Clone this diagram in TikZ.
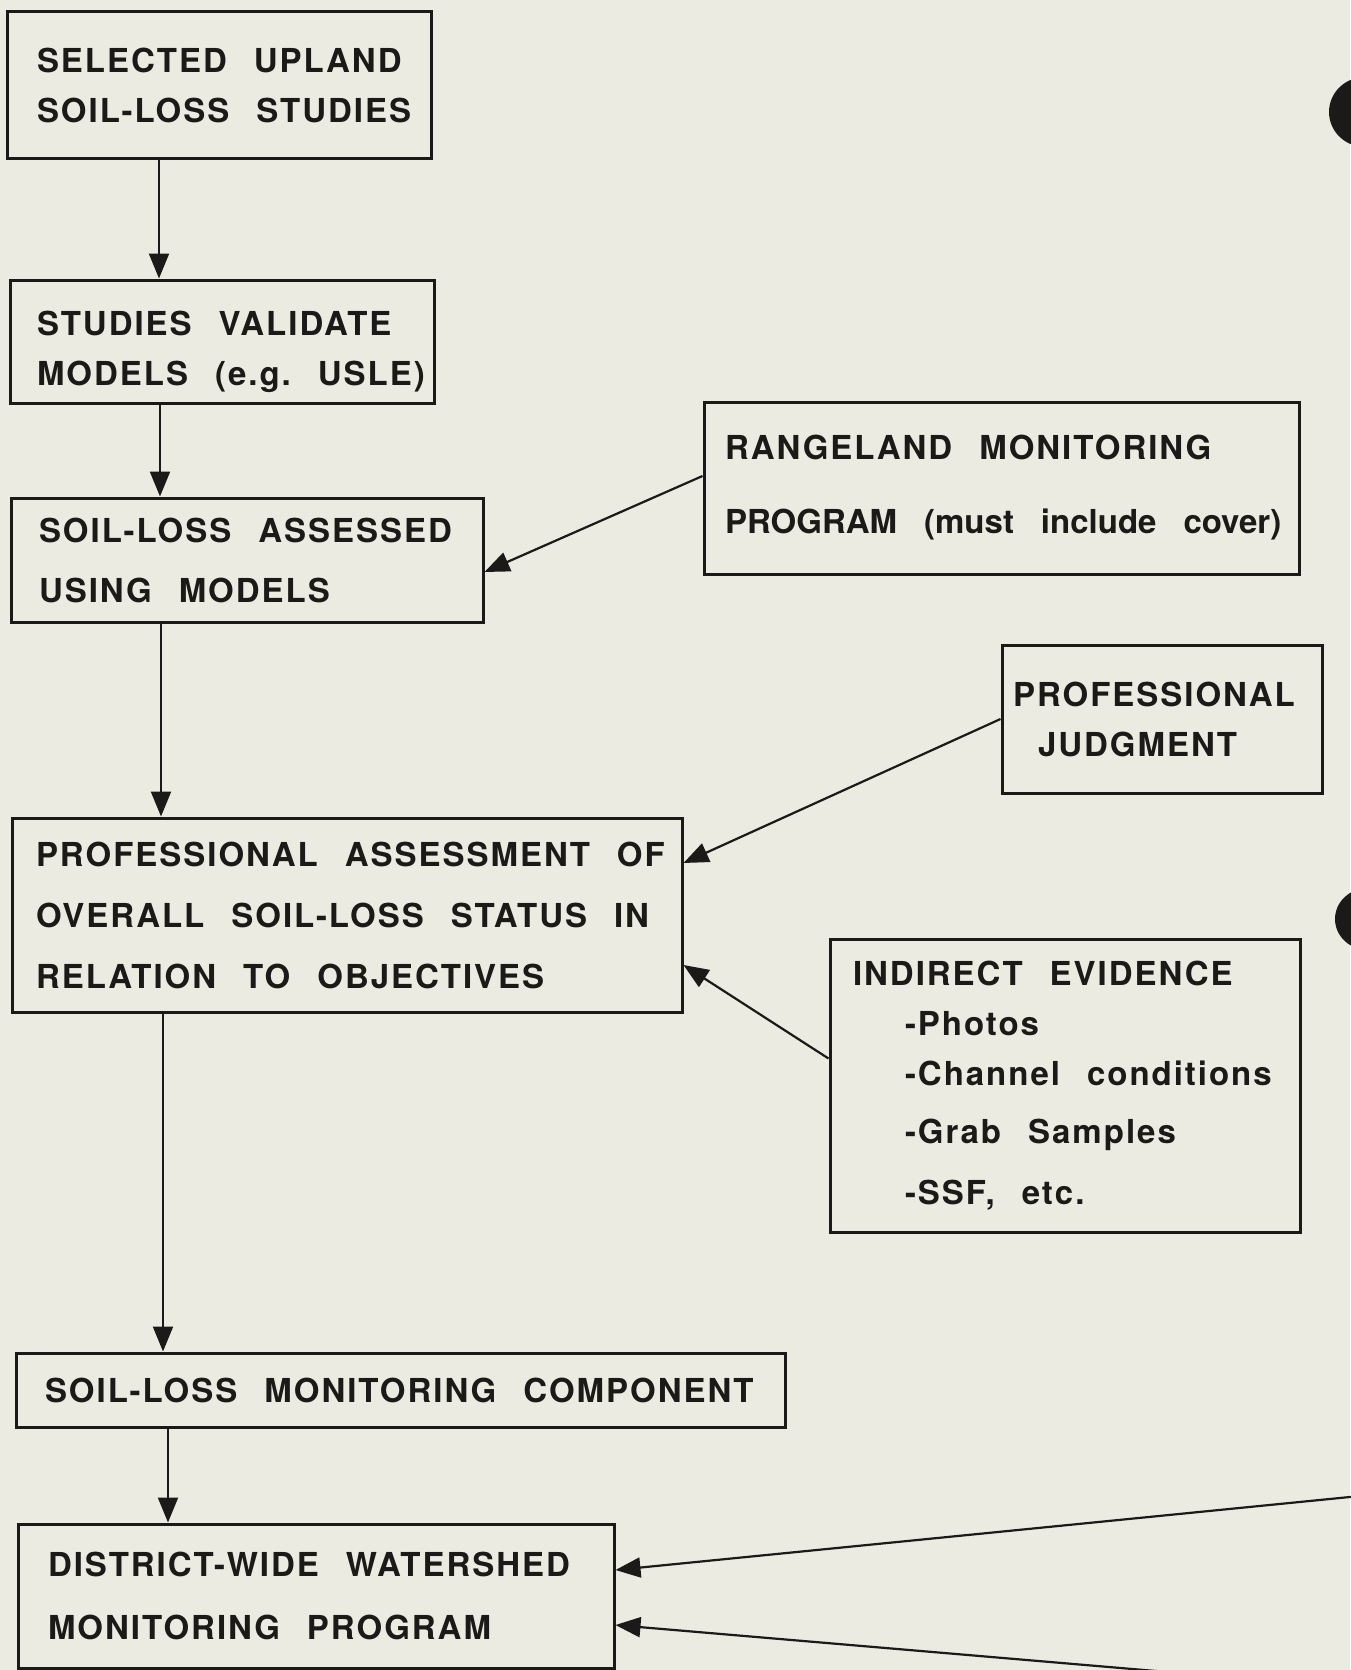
\documentclass[tikz,border=0pt]{standalone}
\usepackage{fontspec}
\setmainfont{TeX Gyre Heros}[LetterSpace=6]
\newfontfamily\tightfont{TeX Gyre Heros}
\usetikzlibrary{arrows.meta, calc}
\definecolor{paper}{RGB}{236, 235, 225}
\definecolor{ink}{RGB}{28, 26, 24}
\newcommand{\boxfont}{\fontsize{33}{50}\selectfont\bfseries\exhyphenpenalty=10000\hyphenpenalty=10000}
\newcommand{\wsp}{\nobreak\hspace{27pt}\nobreak}

\tikzset{
    box/.style={draw=ink, line width=3pt, text=ink, font=\boxfont, align=left, inner ysep=0pt},
    arr/.style={draw=ink, line width=2.2pt, -{Triangle[length=25pt, width=20pt]}}
}

\begin{document}
\begin{tikzpicture}[x=1pt, y=-1pt]
    \path[use as bounding box, fill=paper] (0, 0) rectangle (1350, 1670);

    % main column
    \node[box, minimum width=424pt, minimum height=146pt, inner xsep=30pt, text width=364pt] (sel) at (219, 85)
        {SELECTED\wsp UPLAND\\SOIL-LOSS\wsp STUDIES};
    \node[box, minimum width=424pt, minimum height=123pt, inner xsep=27pt, text width=370pt, text depth=37pt] (val) at (222, 341.5)
        {STUDIES\wsp VALIDATE\\MODELS\wsp (e.g.\wsp USLE)};
    \node[box, minimum width=472pt, minimum height=124pt, inner xsep=28pt, text width=416pt] (models) at (247, 560)
        {SOIL-LOSS\wsp ASSESSED\\[10pt]USING\wsp MODELS};
    \node[box, minimum width=670pt, minimum height=194pt, inner xsep=24pt, text width=622pt] (prof) at (347, 915)
        {PROFESSIONAL\wsp ASSESSMENT\wsp OF\\[11pt]OVERALL\wsp SOIL-LOSS\wsp STATUS\wsp IN\\[11pt]RELATION\wsp TO\wsp OBJECTIVES};
    \node[box, minimum width=769pt, minimum height=74pt, inner xsep=29pt, text width=711pt] (comp) at (400.5, 1390)
        {SOIL-LOSS\wsp MONITORING\wsp COMPONENT};
    \node[box, minimum width=596pt, minimum height=144pt, inner xsep=30pt, text width=536pt] (dist) at (316, 1596)
        {DISTRICT-WIDE\wsp WATERSHED\\[13pt]MONITORING\wsp PROGRAM};

    % inputs on the right
    \node[box, minimum width=595pt, minimum height=172pt, inner xsep=21pt, text width=553pt] (range) at (1001.5, 488)
        {RANGELAND\wsp MONITORING\\[24pt]{\tightfont\bfseries PROGRAM\wsp (must\wsp include\wsp cover)}};
    \node[box, minimum width=320pt, minimum height=148pt, inner xsep=11pt, text width=298pt] (judg) at (1162, 719)
        {PROFESSIONAL\\\hspace*{25pt}JUDGMENT};
    \node[box, minimum width=470pt, minimum height=293pt, inner xsep=23pt, text width=424pt] (indir) at (1065, 1085.5)
        {INDIRECT\wsp EVIDENCE\\\hspace*{52pt}-Photos\\\hspace*{52pt}-Channel\wsp conditions\\[8pt]\hspace*{52pt}-Grab\wsp Samples\\[11pt]\hspace*{52pt}-SSF,\wsp etc.};

    % arrows down the column
    \draw[arr] (sel.south -| 159,0) -- (val.north -| 159,0);
    \draw[arr] (val.south -| 160,0) -- (models.north -| 160,0);
    \draw[arr] (models.south -| 161,0) -- (prof.north -| 161,0);
    \draw[arr] (prof.south -| 163,0) -- (comp.north -| 163,0);
    \draw[arr] (comp.south -| 168,0) -- (dist.north -| 168,0);

    % arrows from the side
    \draw[arr] ($(range.west)+(0,-12)$) -- ($(models.east)+(0,12)$);
    \draw[arr] (judg.west) -- ($(prof.east)+(0,-52)$);
    \draw[arr] ($(indir.west)+(0,-27)$) -- ($(prof.east)+(0,50)$);

    % arrows coming in from off the page
    \coordinate (inA) at (1400, 1492);
    \coordinate (inB) at (1250, 1679);
    \draw[arr] (inA) -- ($(dist.east)+(0,-26)$);
    \draw[arr] (inB) -- ($(dist.east)+(0,29)$);

    % binder holes
    \fill[ink] (1365, 112) ellipse [x radius=36, y radius=35];
    \fill[ink] (1368, 919) ellipse [x radius=33, y radius=31];
\end{tikzpicture}
\end{document}
